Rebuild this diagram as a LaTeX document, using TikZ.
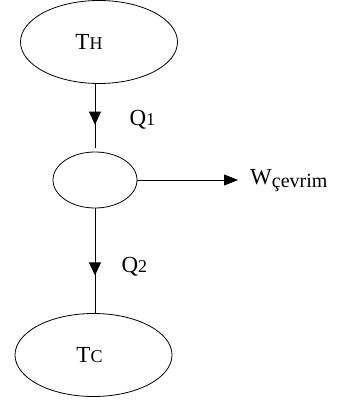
\documentclass[tikz,border=0pt]{standalone}
\usepackage{fontspec}
\setmainfont{Liberation Serif}
\usetikzlibrary{shapes.geometric, arrows.meta, positioning, calc, decorations.markings}
\newcommand{\subtxt}[1]{{\fontsize{18}{18}\selectfont #1}}

\begin{document}
\begin{tikzpicture}[
        x=1pt, y=-1pt,
        reservoir/.style={ellipse, draw=black, line width=0.8pt, inner sep=0pt, minimum width=157pt, minimum height=83pt},
        engine/.style={ellipse, draw=black, line width=0.8pt, inner sep=0pt, minimum width=84pt, minimum height=56pt},
        flow/.style={line width=0.8pt, postaction={decorate},
            decoration={markings, mark=at position 0.64 with {\arrow{Triangle[length=13pt,width=12pt]}}}},
        arrow/.style={-{Triangle[length=14pt,width=11pt]}, line width=0.8pt},
        font=\fontsize{23}{23}\selectfont
    ]
        \useasboundingbox (0,0) rectangle (347,403);

        \node[reservoir, label={[xshift=-10pt]center:T\subtxt{H}}] (hot) at (99,42) {};
        \node[engine] (cycle) at (95,180) {};
        \node[reservoir, label={[xshift=-4pt]center:T\subtxt{C}}] (cold) at (93.5,355) {};

        % heat flows
        \draw[flow] (hot.south -| cycle.north) -- ([yshift=4pt]cycle.north);
        \draw[flow] (cycle.south) -- (cycle.south |- cold.north);

        \node[anchor=west] (q1) at (126,120) {Q\subtxt{1}};
        \node[anchor=west] (q2) at (118,267) {Q\subtxt{2}};

        % work output
        \node[anchor=west, inner sep=2pt] (work) at (248,181) {W\raisebox{-3pt}{\fontsize{20}{20}\selectfont çevrim}};
        \draw[arrow] (cycle.east) -- ([xshift=-10pt]cycle.east -| work.west);
    \end{tikzpicture}
\end{document}
